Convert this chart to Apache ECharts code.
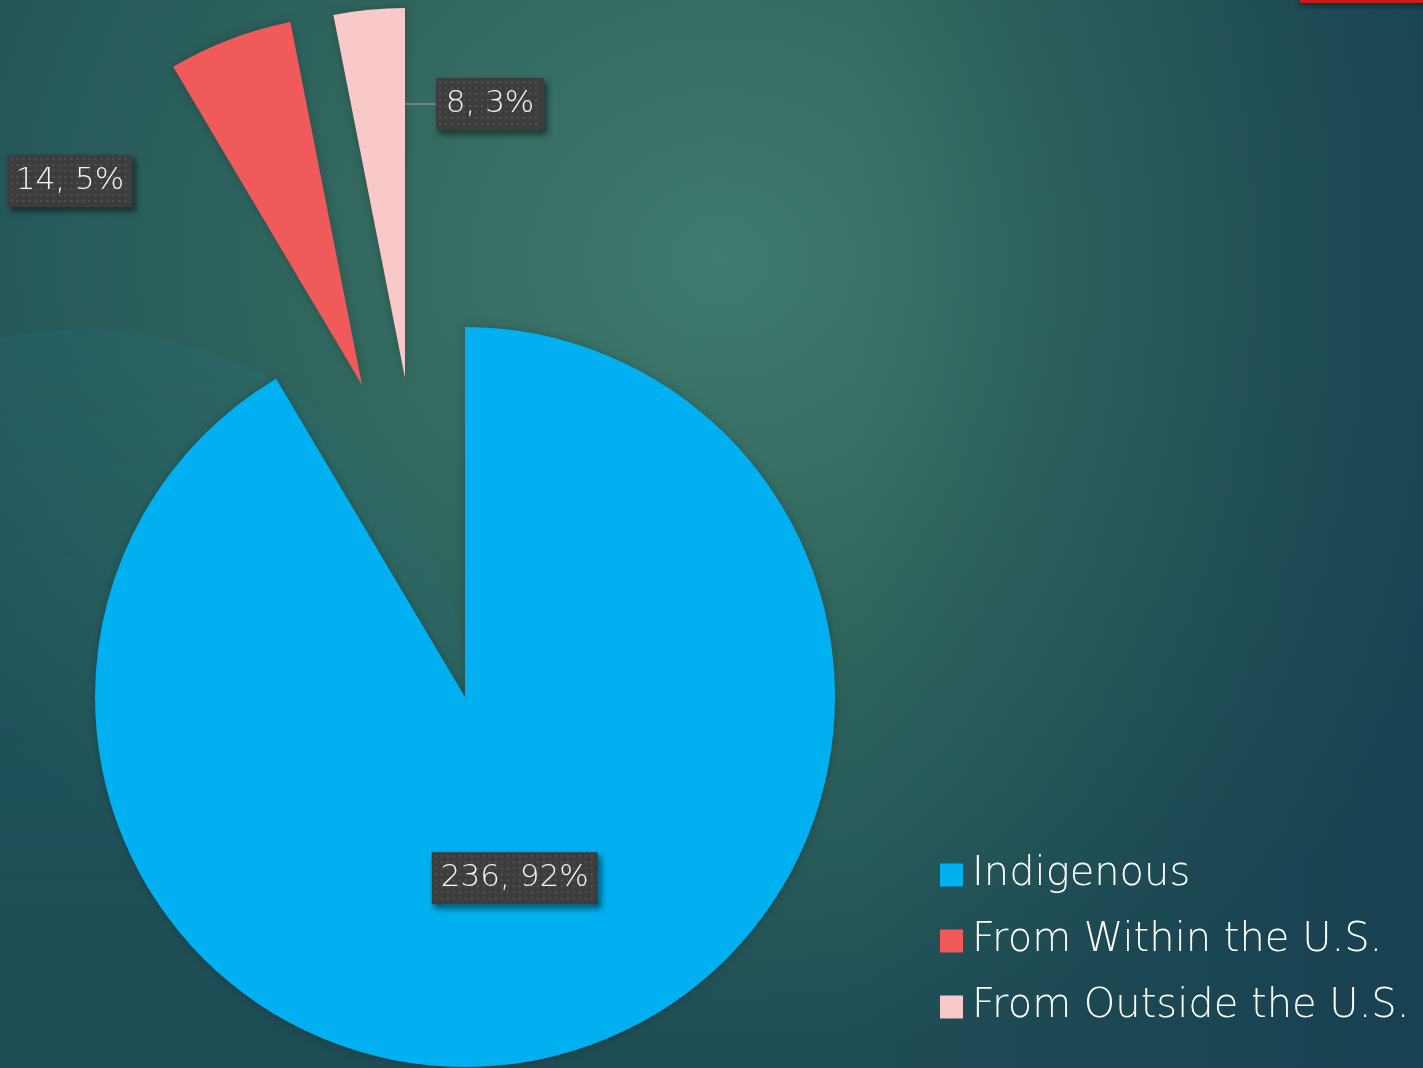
<!DOCTYPE html>
<html>
<head>
<meta charset="utf-8">
<script src="https://cdn.jsdelivr.net/npm/echarts@6/dist/echarts.min.js"></script>
<style>
html,body{margin:0;padding:0;width:1423px;height:1068px;overflow:hidden;}
#chart{width:1423px;height:1068px;
background:
 linear-gradient(to right, rgba(20,60,80,0) 0%, rgba(20,60,80,0) 60%, rgba(18,55,78,0.55) 100%),
 radial-gradient(ellipse 900px 800px at 720px 260px, #3f7b6f 0%, #33695f 40%, #275a5a 75%, #1f4d55 100%);
}
</style>
</head>
<body>
<div id="chart"></div>
<script>
const categories = ['Indigenous', 'From Within the U.S.', 'From Outside the U.S.'];
const values = [236, 14, 8];
const colors = ['#00b0f0', '#f05a5a', '#f9c8c8'];

// layout (not data): pie centre, radius, explosion offsets, label box positions/sizes
const CENTER = [465, 697];
const RADIUS = 370;
const EXPLODE = [[0, 0], [-103, -312], [-60, -319]];
const LABEL_POS = [null, [70, 181], [490, 104]];
const LABEL_W = [146, 105, 88];
const PAD_T = 8, PAD_B = 2, PAD_H = 7, LINE_H = 36, BORDER = 6;
const FONT = '"DejaVu Sans", "Open Sans", sans-serif';

function makePattern(w, h) {
  const c = document.createElement('canvas');
  c.width = w; c.height = h;
  const g = c.getContext('2d');
  g.fillStyle = '#3d3d3d';
  g.fillRect(0, 0, w, h);
  g.fillStyle = '#525252';
  for (let y = 0; y < h; y += 6) {
    for (let x = 0; x < w; x += 6) {
      g.fillRect(x, y, 2, 2);
    }
  }
  return c;
}

const chart = echarts.init(document.getElementById('chart'), null, {renderer: 'canvas'});

const series = categories.map((_, s) => ({
  type: 'pie',
  name: 'slice' + s,
  center: [CENTER[0] + EXPLODE[s][0], CENTER[1] + EXPLODE[s][1]],
  radius: [0, RADIUS],
  startAngle: 90,
  clockwise: true,
  percentPrecision: 0,
  selectedMode: false,
  emphasis: {disabled: true},
  silent: true,
  z: 2 + s,
  data: categories.map((name, i) => ({
    name: name,
    value: values[i],
    itemStyle: i === s
      ? {color: colors[i], shadowBlur: 10, shadowColor: 'rgba(0,0,0,0.22)'}
      : {color: 'rgba(0,0,0,0)'},
    label: i === s ? {
      show: true,
      width: LABEL_W[i],
      overflow: 'none',
      align: 'center',
      backgroundColor: {image: makePattern(LABEL_W[i] + 2 * PAD_H, LINE_H + PAD_T + PAD_B)}
    } : {show: false},
    labelLine: {show: i === s && i === 2, length2: 11, lineStyle: {color: '#8c8c8c', width: 1.5}}
  })),
  label: {
    position: 'inside',
    formatter: '{c}, {d}%',
    color: '#f4f4f4',
    fontFamily: FONT,
    fontWeight: 200,
    fontSize: 31,
    lineHeight: LINE_H,
    padding: [PAD_T, PAD_H, PAD_B, PAD_H],
    borderWidth: BORDER,
    borderColor: '#3d3d3d',
    shadowColor: 'rgba(0,0,0,0.6)',
    shadowBlur: 6,
    shadowOffsetX: 3,
    shadowOffsetY: 4
  },
  labelLayout: function (p) {
    const pos = LABEL_POS[p.dataIndex];
    if (!pos || p.dataIndex !== s) return {};
    return {x: pos[0], y: pos[1], align: 'center', verticalAlign: 'middle'};
  }
}));

chart.setOption({
  animation: false,
  graphic: [
    {type: 'circle', z: -10, shape: {cx: 80, cy: 720, r: 390}, silent: true,
     style: {fill: new echarts.graphic.LinearGradient(0, 0, 0, 1, [
       {offset: 0, color: 'rgba(35,115,125,0.22)'},
       {offset: 0.6, color: 'rgba(35,115,125,0.10)'},
       {offset: 0.9, color: 'rgba(35,115,125,0)'}
     ])}},
    {type: 'rect', z: 10, shape: {x: 1300, y: -2, width: 130, height: 5}, style: {fill: '#c0201c', shadowColor: 'rgba(0,0,0,0.6)', shadowBlur: 6, shadowOffsetY: 2}, silent: true}
  ],
  legend: {
    orient: 'vertical',
    left: 935,
    top: 847,
    itemWidth: 23,
    itemHeight: 23,
    itemGap: 20,
    icon: 'rect',
    selectedMode: false,
    textStyle: {color: '#ffffff', fontFamily: FONT, fontSize: 40, fontWeight: 200, lineHeight: 46, padding: [0, 0, 0, 4]},
    data: categories.map((name, i) => ({name: name, itemStyle: {color: colors[i]}}))
  },
  series: series
});
</script>
</body>
</html>
